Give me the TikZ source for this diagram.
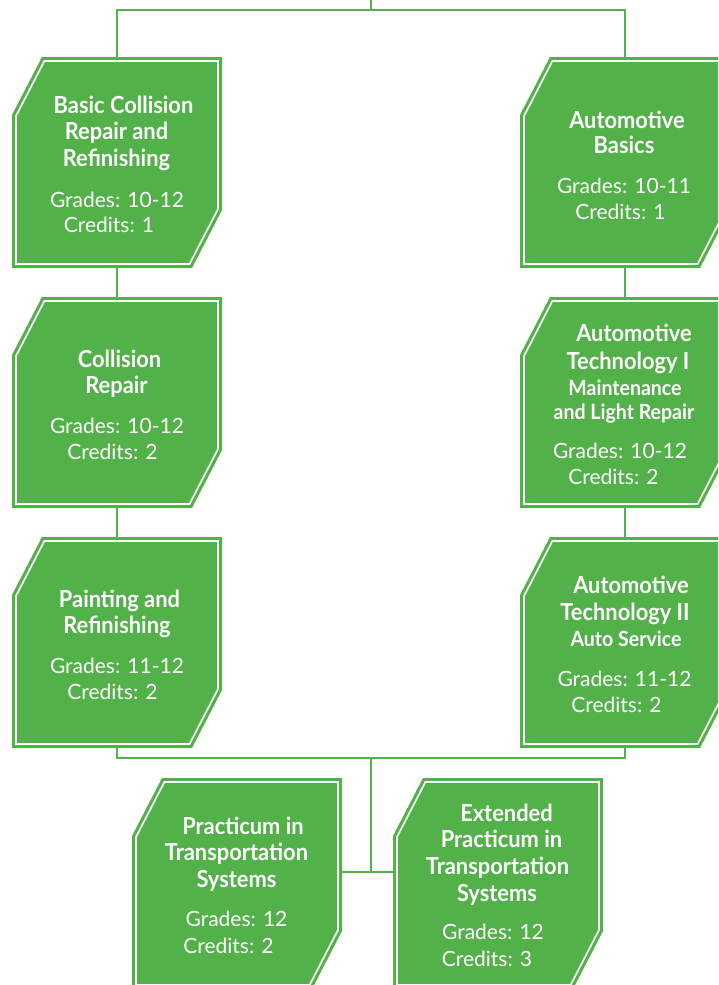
\documentclass[tikz,border=0pt]{standalone}
\usepackage{fontspec}
\setmainfont{Lato}
\newfontfamily\ttlfont[FakeStretch=0.93]{Lato}
\definecolor{cg}{RGB}{83,177,73}
\tikzset{
  boxn/.style={minimum width=210pt, minimum height=211pt, inner sep=0pt, outer sep=0pt},
  conn/.style={draw=cg, line width=2.6pt},
  ttl/.style={text=white, font=\ttlfont\bfseries\fontsize{23.5}{26}\selectfont, inner sep=0pt, anchor=base},
  sub/.style={text=white, font=\ttlfont\bfseries\fontsize{21}{24}\selectfont, inner sep=0pt, anchor=base},
  grd/.style={text=white, font=\fontsize{21}{26}\selectfont, inner sep=0pt, anchor=base},
}
\newcommand\cbox[3]{%
  \node[boxn] (#1) at (#2+105,#3+105.5) {};
  \fill[cg] (#2+30,#3) -- (#2+210,#3) -- (#2+210,#3+153) -- (#2+180,#3+211) -- (#2,#3+211) -- (#2,#3+58) -- cycle;
  \draw[white, line width=1.7pt] (#2+32.4,#3+4) -- (#2+206,#3+4) -- (#2+206,#3+152) -- (#2+177.6,#3+207) -- (#2+4,#3+207) -- (#2+4,#3+59) -- cycle;
}
\begin{document}
\begin{tikzpicture}[x=1pt, y=-1pt]
\useasboundingbox (0,0) rectangle (718,985);
\clip (0,0) rectangle (718,985);
% boxes
\cbox{L1}{12}{57}
\cbox{L2}{12}{297}
\cbox{L3}{12}{537}
\cbox{R1}{520}{57}
\cbox{R2}{520}{297}
\cbox{R3}{520}{537}
\cbox{P}{132}{778}
\cbox{E}{393}{778}
% connectors
\coordinate (top) at (371,0);
\coordinate (tj) at (371,10);
\coordinate (bj) at (371,758);
\coordinate (mj) at (371,872);
\draw[conn] (L1.north) |- (tj) -| (R1.north);
\draw[conn] (top) -- (tj);
\draw[conn] (L1.south) -- (L2.north);
\draw[conn] (L2.south) -- (L3.north);
\draw[conn] (R1.south) -- (R2.north);
\draw[conn] (R2.south) -- (R3.north);
\draw[conn] (L3.south) |- (bj) -| (R3.south);
\draw[conn] (bj) -- (mj);
\draw[conn] (P.east |- mj) -- (E.west |- mj);
% L1
\node[ttl] (L1a) at (123.5,113.3) {Basic Collision};
\node[ttl] (L1b) at (116.5,139.5) {Repair and};
\node[ttl] (L1c) at (116.5,166) {Refinishing};
\node[grd] (L1d) at (117,207) {Grades: 10-12};
\node[grd] (L1e) at (109,232) {Credits: 1};
% L2
\node[ttl] (L2a) at (119.5,367) {Collision};
\node[ttl] (L2b) at (116.5,393) {Repair};
\node[grd] (L2c) at (117,433) {Grades: 10-12};
\node[grd] (L2d) at (112.5,459) {Credits: 2};
% L3
\node[ttl] (L3a) at (119.5,607) {Painting and};
\node[ttl] (L3b) at (117,633) {Refinishing};
\node[grd] (L3c) at (117,673) {Grades: 11-12};
\node[grd] (L3d) at (112.5,699) {Credits: 2};
% R1
\node[ttl] (R1a) at (627,128) {Automotive};
\node[ttl] (R1b) at (624,153.5) {Basics};
\node[grd] (R1c) at (624,193.5) {Grades: 10-11};
\node[grd] (R1d) at (620.5,219) {Credits: 1};
% R2
\node[ttl] (R2a) at (634,341.7) {Automotive};
\node[ttl] (R2b) at (628,369) {Technology I};
\node[sub] (R2c) at (625,395) {Maintenance};
\node[sub] (R2d) at (624,419) {and Light Repair};
\node[grd] (R2e) at (620,458) {Grades: 10-12};
\node[grd] (R2f) at (613.5,484) {Credits: 2};
% R3
\node[ttl] (R3a) at (631,593) {Automotive};
\node[ttl] (R3b) at (625,620) {Technology II};
\node[sub] (R3c) at (626,646) {Auto Service};
\node[grd] (R3d) at (624.5,686) {Grades: 11-12};
\node[grd] (R3e) at (616.5,712) {Credits: 2};
% P
\node[ttl] (Pa) at (243,834) {Practicum in};
\node[ttl] (Pb) at (236.5,860) {Transportation};
\node[ttl] (Pc) at (236.5,887) {Systems};
\node[grd] (Pd) at (236.5,926) {Grades: 12};
\node[grd] (Pe) at (228.5,953) {Credits: 2};
% E
\node[ttl] (Ea) at (506.5,821) {Extended};
\node[ttl] (Eb) at (501.5,847) {Practicum in};
\node[ttl] (Ec) at (497.5,874) {Transportation};
\node[ttl] (Ed) at (497,901) {Systems};
\node[grd] (Ee) at (493,939) {Grades: 12};
\node[grd] (Ef) at (487,966) {Credits: 3};
\end{tikzpicture}
\end{document}
